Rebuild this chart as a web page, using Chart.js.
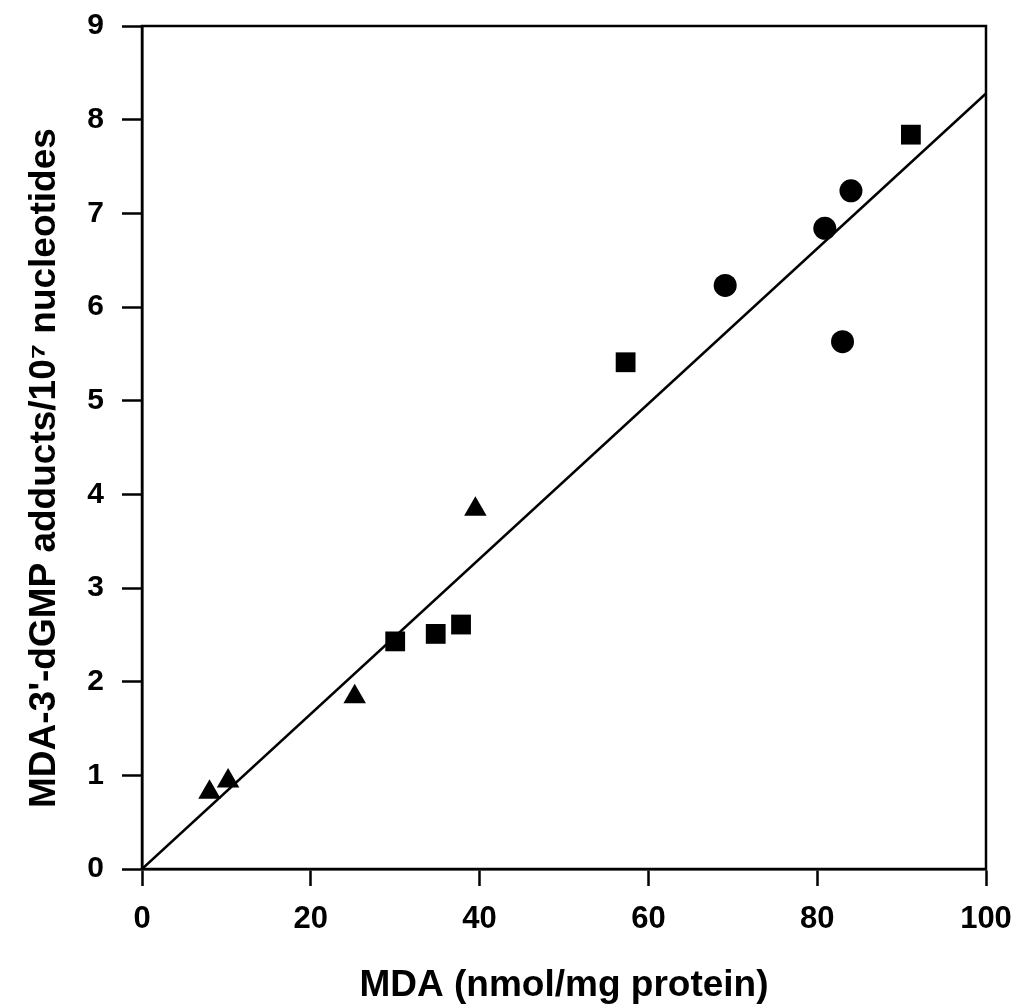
<!DOCTYPE html>
<html>
<head>
<meta charset="utf-8">
<title>MDA vs MDA-3'-dGMP adducts</title>
<script src="https://cdn.jsdelivr.net/npm/chart.js@4/dist/chart.umd.min.js"></script>
<style>
  body { margin: 0; background: #fff; }
  canvas { display: block; }
</style>
</head>
<body>
<canvas id="myChart" width="1019" height="1008"></canvas>
<script>
// values: MDA (x) and adducts (y)
var triangleX = [8, 10.2, 25.2, 39.5];
var triangleY = [0.82, 0.94, 1.84, 3.84];
var squareX = [30, 34.8, 37.8, 57.3, 91.1];
var squareY = [2.43, 2.51, 2.61, 5.41, 7.84];
var circleX = [69.1, 80.9, 84, 83];
var circleY = [6.23, 6.84, 7.24, 5.63];
var fitX = [0, 100];
var fitY = [0, 8.28];
var xTicks = [0, 20, 40, 60, 80, 100];
var yTicks = [0, 1, 2, 3, 4, 5, 6, 7, 8, 9];

function pts(xs, ys) {
  return xs.map(function (x, i) { return { x: x, y: ys[i] }; });
}

var FONT = '"Liberation Sans", Arial, sans-serif';

// box around the plot area
var frame = {
  id: 'frame',
  afterDraw: function (chart) {
    var a = chart.chartArea, c = chart.ctx;
    c.save();
    c.strokeStyle = '#000';
    c.lineWidth = 2.5;
    c.strokeRect(a.left, a.top, a.right - a.left, a.bottom - a.top);
    c.restore();
  }
};

var ctx = document.getElementById('myChart').getContext('2d');
var chart = new Chart(ctx, {
  type: 'scatter',
  data: {
    datasets: [
      {
        label: 'fit',
        type: 'line',
        data: pts(fitX, fitY),
        borderColor: '#000',
        borderWidth: 2.5,
        pointRadius: 0,
        order: 2
      },
      {
        label: 'triangles',
        data: pts(triangleX, triangleY),
        pointStyle: 'triangle',
        pointRadius: 13,
        backgroundColor: '#000',
        borderColor: '#000',
        borderWidth: 0,
        order: 1
      },
      {
        label: 'squares',
        data: pts(squareX, squareY),
        pointStyle: 'rect',
        pointRadius: 14,
        backgroundColor: '#000',
        borderColor: '#000',
        borderWidth: 0,
        order: 1
      },
      {
        label: 'circles',
        data: pts(circleX, circleY),
        pointStyle: 'circle',
        pointRadius: 11.5,
        backgroundColor: '#000',
        borderColor: '#000',
        borderWidth: 0,
        order: 1
      }
    ]
  },
  options: {
    responsive: false,
    animation: false,
    layout: { padding: { top: 26, right: 33, left: 0, bottom: 0 } },
    plugins: {
      legend: { display: false },
      tooltip: { enabled: false }
    },
    scales: {
      x: {
        type: 'linear',
        min: 0,
        max: 100,
        afterBuildTicks: function (s) { s.ticks = xTicks.map(function (v) { return { value: v }; }); },
        afterFit: function (s) { s.height = 139; s.paddingLeft = 0; s.paddingRight = 0; },
        border: { color: '#000', width: 2.5 },
        grid: { drawOnChartArea: false, drawTicks: true, tickLength: 17, tickColor: '#000', tickWidth: 2.5 },
        ticks: { color: '#000', padding: 15, font: { family: FONT, size: 31, weight: 'bold' } },
        title: {
          display: true,
          text: 'MDA (nmol/mg protein)',
          color: '#000',
          padding: { top: 16, bottom: 0 },
          font: { family: FONT, size: 37, weight: 'bold' }
        }
      },
      y: {
        type: 'linear',
        min: 0,
        max: 9,
        afterBuildTicks: function (s) { s.ticks = yTicks.map(function (v) { return { value: v }; }); },
        afterFit: function (s) { s.width = 142; s.paddingTop = 0; s.paddingBottom = 0; },
        border: { color: '#000', width: 2.5 },
        grid: { drawOnChartArea: false, drawTicks: true, tickLength: 20, tickColor: '#000', tickWidth: 2.5 },
        ticks: { color: '#000', padding: 18, font: { family: FONT, size: 30, weight: 'bold' } },
        title: {
          display: true,
          text: "MDA-3'-dGMP adducts/10\u2077 nucleotides\u00a0\u00a0\u00a0\u00a0",
          color: '#000',
          padding: { top: 23, bottom: 0 },
          font: { family: FONT, size: 37, weight: 'bold' }
        }
      }
    }
  },
  plugins: [frame]
});
</script>
</body>
</html>
